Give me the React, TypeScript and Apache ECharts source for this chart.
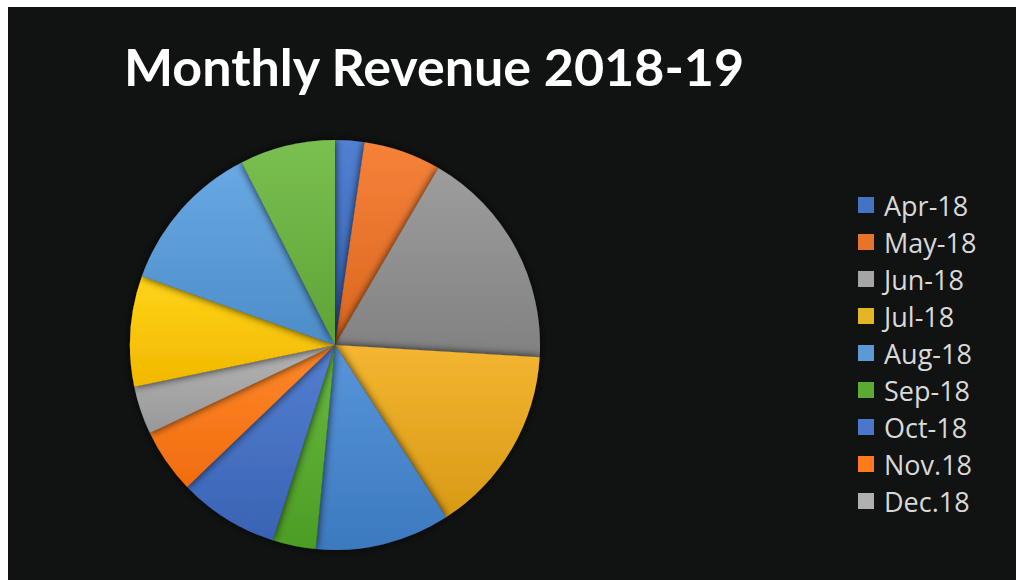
import React, { useEffect, useRef } from "react";
import * as echarts from "echarts";

const months = ["Apr-18", "May-18", "Jun-18", "Jul-18", "Aug-18", "Sep-18", "Oct-18", "Nov.18", "Dec.18", "Jan-19", "Feb-19", "Mar-19"];
const revenue = [2.3, 6.1, 17.5, 14.9, 10.6, 3.4, 7.9, 5.1, 3.8, 8.7, 12.0, 7.5];
const legendNames = ["Apr-18", "May-18", "Jun-18", "Jul-18", "Aug-18", "Sep-18", "Oct-18", "Nov.18", "Dec.18"];
const sliceColors = ["#4472c4", "#e8742c", "#8f8f8f", "#e6a823", "#4a87cc", "#5aab32", "#4771c2", "#ff7a1c", "#a6a6a6", "#ffc60a", "#5b9bd5", "#6cb143"];
const legendColors = ["#4472c4", "#e8742c", "#a5a5a5", "#e6b523", "#5b9bd5", "#5aab32", "#4a77cc", "#ff7a1c", "#b0b0b0"];
const titleText = "Monthly Revenue 2018-19";

function shade(hex: string, amt: number) {
  const n = parseInt(hex.slice(1), 16);
  const f = (c: number) => Math.max(0, Math.min(255, Math.round(c + amt)));
  const r = f((n >> 16) & 255), g = f((n >> 8) & 255), b = f(n & 255);
  return `rgb(${r},${g},${b})`;
}

export default function App() {
  const ref = useRef<HTMLDivElement>(null);
  useEffect(() => {
    const chart = echarts.init(ref.current!, undefined, { renderer: "svg" });
    chart.setOption({
      animation: false,
      backgroundColor: "#111212",
      title: {
        text: titleText,
        left: 111,
        top: 28,
        textStyle: { color: "#ffffff", fontSize: 52, fontWeight: "bold", fontFamily: "Lato" },
      },
      legend: {
        data: legendNames.map((n, i) => ({ name: n, itemStyle: { color: legendColors[i] } })),
        orient: "vertical",
        left: 845,
        top: 179,
        icon: "rect",
        itemWidth: 16,
        itemHeight: 16,
        itemGap: 9,
        textStyle: { color: "#d9d9d9", fontSize: 27, lineHeight: 28, fontFamily: "Open Sans", padding: [0, 0, 0, 5] },
      },
      series: [
        {
          type: "pie",
          center: [327, 338],
          radius: 205,
          startAngle: 90,
          clockwise: true,
          label: { show: false },
          labelLine: { show: false },
          emphasis: { disabled: true },
          itemStyle: { shadowBlur: 8, shadowColor: "rgba(0,0,0,0.8)" },
          data: months.map((m, i) => ({
            name: m,
            value: revenue[i],
            itemStyle: {
              color: new echarts.graphic.LinearGradient(0, 0, 0, 1, [
                { offset: 0, color: shade(sliceColors[i], 14) },
                { offset: 1, color: shade(sliceColors[i], -14) },
              ]),
            },
          })),
        },
      ],
    });
    return () => chart.dispose();
  }, []);
  return <div ref={ref} style={{ position: "absolute", left: 8, top: 7, width: 1008, height: 573 }} />;
}
